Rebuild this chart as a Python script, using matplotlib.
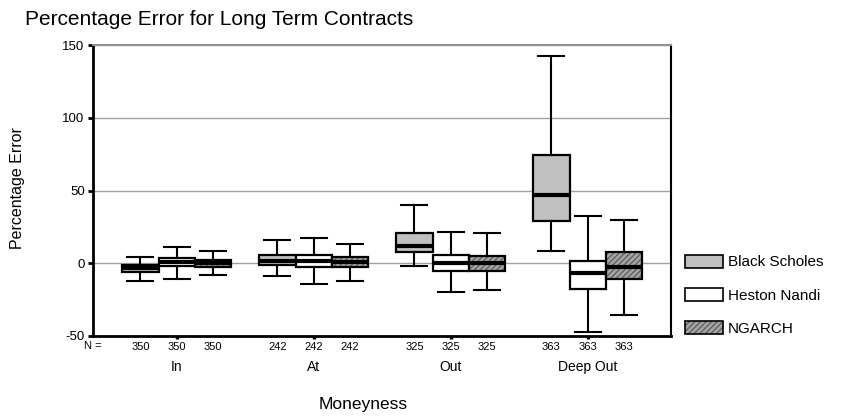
import matplotlib
matplotlib.use("Agg")
import matplotlib.pyplot as plt
from matplotlib.patches import Patch
from matplotlib.colors import to_rgba

plt.rcParams['font.family'] = ['Liberation Sans', 'DejaVu Sans']
plt.rcParams['hatch.linewidth'] = 0.8

# ---- data ----
groups = ['In', 'At', 'Out', 'Deep Out']
counts = [350, 242, 325, 363]
series = ['Black Scholes', 'Heston Nandi', 'NGARCH']
# each entry: (whisker low, Q1, median, Q3, whisker high)
bs_stats = [(-12.2, -5.8, -3.4, -1.2, 4.5),
            (-8.9, -1.2, 1.8, 5.9, 16.0),
            (-1.9, 7.8, 11.9, 20.6, 40.0),
            (8.2, 29.3, 46.9, 74.4, 142.2)]
hn_stats = [(-10.6, -1.9, 0.7, 3.4, 11.4),
            (-14.2, -2.5, 1.8, 5.9, 17.6),
            (-19.7, -5.1, 0.4, 5.7, 21.5),
            (-47.2, -17.9, -6.9, 1.8, 32.5)]
ng_stats = [(-8.0, -2.5, 0.0, 2.5, 8.7),
            (-12.2, -2.5, 1.1, 4.1, 13.5),
            (-18.3, -5.1, 0.4, 4.8, 20.6),
            (-35.5, -10.6, -2.3, 7.6, 29.7)]
y_ticks = [-50, 0, 50, 100, 150]

# ---- style ----
face = ['#c0c0c0', '#ffffff', '#a4a4a4']
hatches = [None, None, '//////']
hatch_col = '#555555'
width = 0.265
offsets = [-width, 0.0, width]

fig = plt.figure(figsize=(8.65, 4.17), dpi=100)
ax = fig.add_axes([93/865, 81/417, 578/865, 291/417])

all_stats = [bs_stats, hn_stats, ng_stats]
handles = []
for si, st in enumerate(all_stats):
    stats = []
    for lo, q1, med, q3, hi in st:
        stats.append(dict(whislo=lo, q1=q1, med=med, q3=q3, whishi=hi, fliers=[]))
    pos = [g + 1 + offsets[si] for g in range(len(groups))]
    bp = ax.bxp(stats, positions=pos, widths=width, patch_artist=True,
                showfliers=False, capwidths=0.19,
                boxprops=dict(facecolor=face[si], edgecolor='black', linewidth=1.6),
                medianprops=dict(color='black', linewidth=3.0),
                whiskerprops=dict(color='black', linewidth=1.5),
                capprops=dict(color='black', linewidth=1.5),
                manage_ticks=False, zorder=3)
    for b in bp['boxes']:
        if hatches[si]:
            b.set_hatch(hatches[si])
            b._hatch_color = to_rgba(hatch_col)
    h = Patch(facecolor=face[si], edgecolor='black', linewidth=1.2, label=series[si])
    if hatches[si]:
        h.set_hatch(hatches[si])
        h._hatch_color = to_rgba(hatch_col)
    handles.append(h)

ax.set_xlim(0.389, 4.608)
ax.set_ylim(-50, 150)
ax.set_yticks(y_ticks)
ax.set_yticklabels([str(t) for t in y_ticks])
ax.yaxis.grid(True, color='#a0a0a0', linewidth=1.0)
ax.set_axisbelow(True)

# x axis: group names (major) and N counts (minor)
ax.xaxis.remove_overlapping_locs = False
ax.set_xticks(range(1, len(groups) + 1))
ax.set_xticklabels(groups)
minor_pos = []
minor_lab = []
for g in range(len(groups)):
    for si in range(len(series)):
        minor_pos.append(g + 1 + offsets[si])
        minor_lab.append(str(counts[g]))
ax.set_xticks(minor_pos, minor=True)
ax.set_xticklabels(minor_lab, minor=True)
ax.tick_params(axis='x', which='major', length=2, width=2.5, pad=15.5, labelsize=10)
ax.tick_params(axis='x', which='minor', length=0, pad=4.2, labelsize=8)
ax.tick_params(axis='y', length=3.5, width=2, pad=2.5, labelsize=9.5)

for s in ['left', 'bottom']:
    ax.spines[s].set_linewidth(2)
    ax.spines[s].set_color('black')
ax.spines['right'].set_linewidth(1.5)
ax.spines['top'].set_color('#909090')
ax.spines['top'].set_linewidth(1.5)

fig.text(93/865, 1 - 346/417, 'N =', ha='center', va='center', fontsize=8)
fig.text(25/865, 1 - 25/417, 'Percentage Error for Long Term Contracts',
         ha='left', va='baseline', fontsize=15)
fig.text(18/865, 1 - 188/417, 'Percentage Error', rotation=90,
         ha='center', va='center', fontsize=11.5)
fig.text(363/865, 1 - 404/417, 'Moneyness', ha='center', va='center', fontsize=12.5)

ax.legend(handles=handles, loc='upper left', bbox_to_anchor=(1.024, 0.28),
          frameon=False, fontsize=11, handlelength=2.5, handleheight=0.95,
          handletextpad=0.3, labelspacing=1.2, borderpad=0, borderaxespad=0)

fig.savefig('out.png', dpi=100)
